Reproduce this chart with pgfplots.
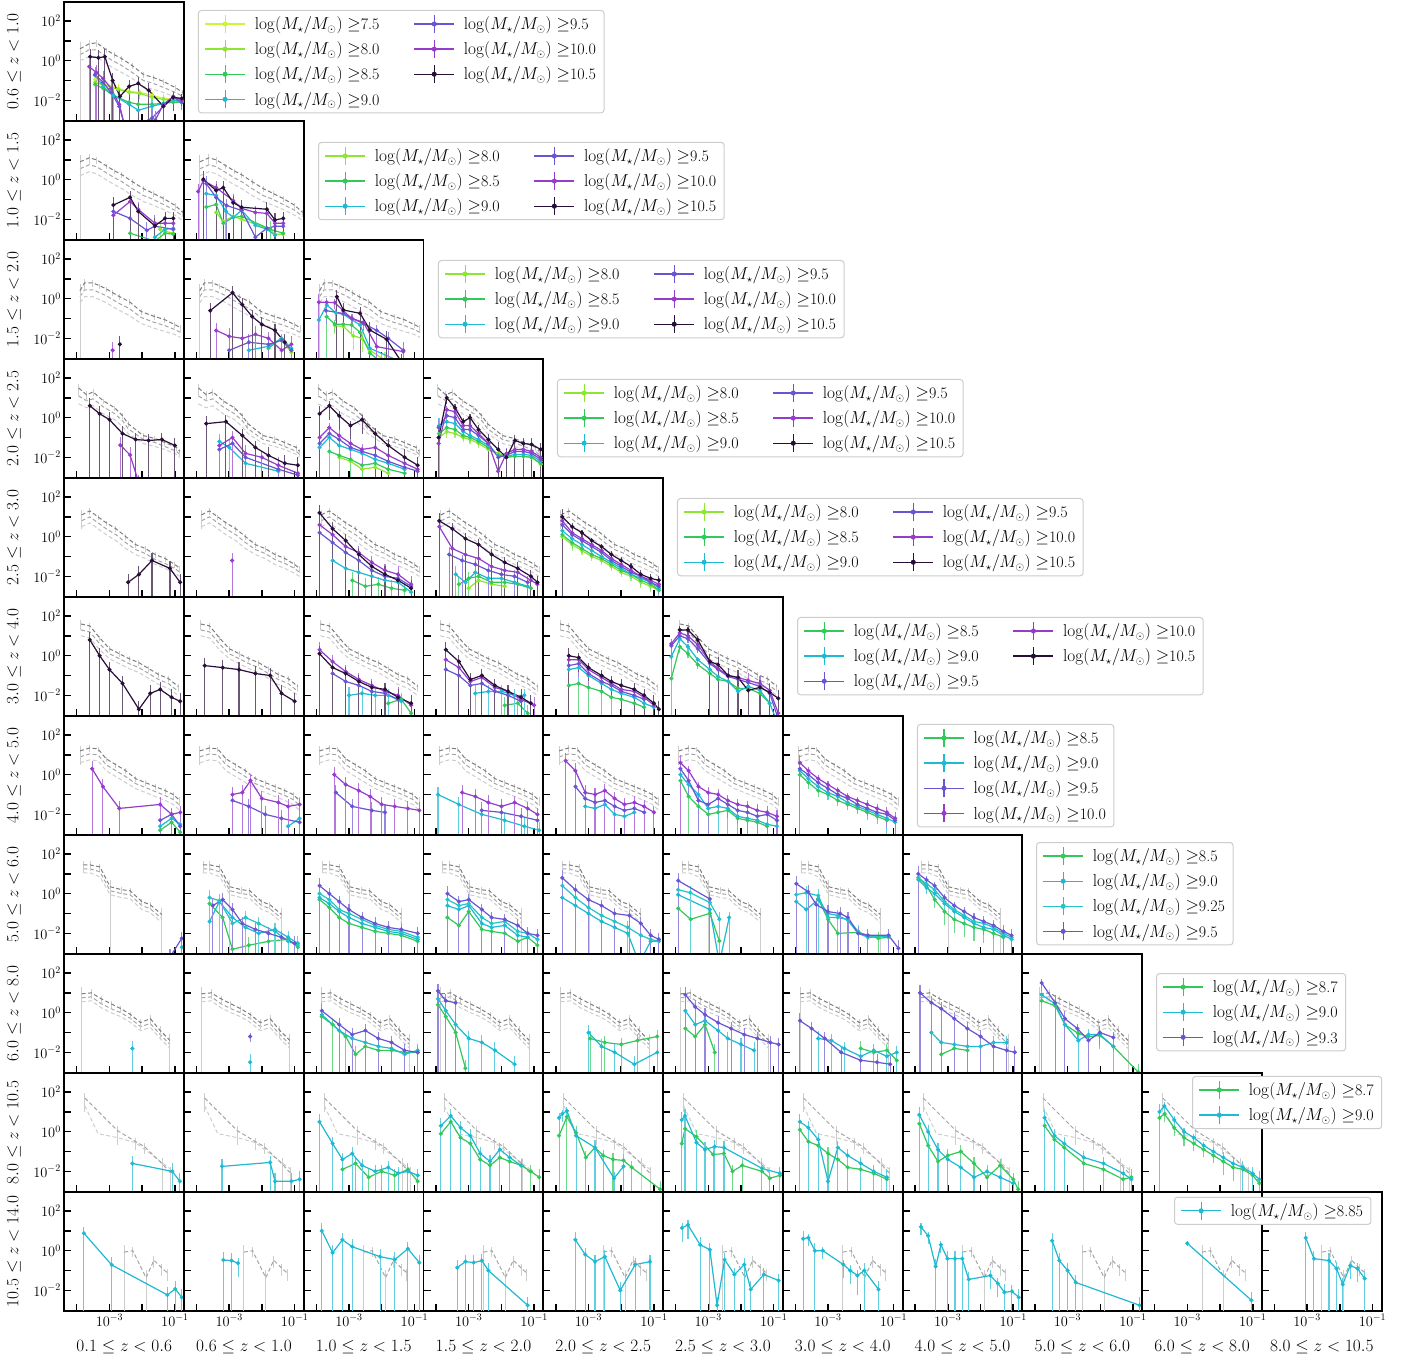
\documentclass[border=0pt]{standalone}
\usepackage{pgfplots}
\pgfplotsset{compat=1.18}
\definecolor{cA}{RGB}{205,245,50}
\definecolor{cB}{RGB}{140,230,50}
\definecolor{cC}{RGB}{50,200,90}
\definecolor{cD}{RGB}{30,185,210}
\definecolor{cE}{RGB}{35,195,200}
\definecolor{cF}{RGB}{105,85,210}
\definecolor{cG}{RGB}{150,60,205}
\definecolor{cH}{RGB}{40,15,55}
\definecolor{gA}{RGB}{125,125,125}
\definecolor{gB}{RGB}{165,165,165}
\definecolor{gC}{RGB}{205,205,205}
\definecolor{lgframe}{RGB}{204,204,204}
\pgfplotsset{
 pnl/.style={scale only axis, width=119.76pt, height=119pt, anchor=north west,
  xmin=-4.38, xmax=-0.72, ymin=-3.04, ymax=2.96,
  xtick={-4,-3,-2,-1}, ytick={-2,-1,0,1,2}, xticklabels={,,,}, yticklabels={,,,,},
  tick align=inside, tick pos=left, major tick length=7pt,
  tick style={black, line width=1.5pt}, axis line style={line width=1.8pt},
  tick label style={font=\fontsize{13.6}{16}\selectfont},
  label style={font=\fontsize{16}{19}\selectfont},
  ylabel style={at={(axis description cs:-0.42,0.5)}, anchor=center},
  xlabel style={at={(axis description cs:0.5,-0.30)}, anchor=center},
  legend cell align=left,
  legend style={draw=lgframe, line width=1pt, rounded corners=3pt, fill=white,
   font=\fontsize{16}{19}\selectfont, row sep=6pt, inner xsep=6pt, inner ysep=4pt,
   /tikz/every even column/.append style={column sep=32pt},
   /tikz/every odd column/.append style={column sep=7pt}}},
 yl/.style={yticklabels={$10^{-2}$,,$10^{0}$,,$10^{2}$}, ylabel={#1}},
 xl/.style={xticklabels={,$10^{-3}$,,$10^{-1}$}, xlabel={#1}},
 lg/.style n args={3}{legend columns=#3, legend style={at={(axis description cs:#1,#2)}, anchor=north west}},
 ser/.style={forget plot, line width=1.2pt, mark=*, mark size=1.4pt, mark options={solid}},
 ebar/.style={forget plot, no marks, solid, -, quiver={u=0, v={ln(1+\thisrowno{2})/ln(10)-ln(max(1-\thisrowno{2},0.00001))/ln(10)}}},
 gsern/.style={forget plot, line width=1pt, dash pattern=on 4pt off 2.5pt, no marks},
}
\newcommand{\sr}[2]{\addplot[#1!70!white,line width=1.1pt,ebar] table[header=false,row sep=\\,x index=0,y expr={\thisrowno{1}+ln(max(1-\thisrowno{2},0.00001))/ln(10)}]{#2};\addplot[#1,ser] table[header=false,row sep=\\,x index=0,y index=1]{#2};}
\newcommand{\gp}[2]{\addplot[gC,line width=1pt,ebar] table[header=false,row sep=\\,x index=0,y expr={\thisrowno{1}+ln(max(1-\thisrowno{2},0.00001))/ln(10)}]{#2};\addplot[#1,gsern] table[header=false,row sep=\\,x index=0,y index=1]{#2};}
\newcommand{\gq}[2]{\addplot[#1,gsern] table[header=false,row sep=\\,x index=0,y index=1]{#2};}
\newcommand{\lge}[2]{\addlegendimage{legend image code/.code={\draw[#1,line width=1.3pt] (0pt,0pt) -- (40pt,0pt);\draw[#1,line width=1.1pt] (20pt,-9pt) -- (20pt,9pt);\fill[#1] (20pt,0pt) circle (2pt);}}\addlegendentry{$\log(M_\star/M_\odot)$ $\geq$#2}}
\newcommand{\defgray}[2]{\expandafter\def\csname grayrow#1\endcsname{#2}}
\newcommand{\Pnl}[4]{\begin{axis}[pnl,at={({64.3pt+#2*119.76pt},{1363pt-#1*119pt})},#3]\csname grayrow#1\endcsname #4\end{axis}}

\defgray{0}{%
\gq{gC}{-3.9 0.0 1.2\\ -3.62 0.2 0.5\\ -3.39 0.2 0.4\\ -3.1 -0.15 0.3\\ -2.85 -0.4 0.3\\ -2.62 -0.6 0.3\\ -2.3 -0.9 0.3\\ -1.96 -1.3 0.3\\ -1.65 -1.45 0.3\\ -1.35 -1.6 0.3\\ -0.99 -1.85 0.3\\ -0.76 -2.0 0.3\\}
\gq{gB}{-3.9 0.3 1.2\\ -3.62 0.55 0.5\\ -3.39 0.55 0.4\\ -3.1 0.2 0.3\\ -2.85 -0.05 0.3\\ -2.62 -0.25 0.3\\ -2.3 -0.6 0.3\\ -1.96 -1.0 0.3\\ -1.65 -1.15 0.3\\ -1.35 -1.35 0.3\\ -0.99 -1.6 0.3\\ -0.76 -1.8 0.3\\}
\gp{gA}{-3.9 0.6 1.2\\ -3.62 0.85 0.5\\ -3.39 0.9 0.4\\ -3.1 0.55 0.3\\ -2.85 0.3 0.3\\ -2.62 0.1 0.3\\ -2.3 -0.25 0.3\\ -1.96 -0.7 0.3\\ -1.65 -0.85 0.3\\ -1.35 -1.05 0.3\\ -0.99 -1.35 0.3\\ -0.76 -1.6 0.3\\}}
\defgray{1}{%
\gq{gC}{-3.9 0.2 1.2\\ -3.62 0.4 0.5\\ -3.39 0.3 0.4\\ -3.1 0.0 0.3\\ -2.85 -0.25 0.3\\ -2.62 -0.45 0.3\\ -2.3 -0.8 0.3\\ -1.96 -1.1 0.3\\ -1.65 -1.3 0.3\\ -1.35 -1.5 0.3\\ -0.99 -1.8 0.3\\ -0.76 -2.05 0.4\\}
\gq{gB}{-3.9 0.55 1.2\\ -3.62 0.75 0.5\\ -3.39 0.65 0.4\\ -3.1 0.35 0.3\\ -2.85 0.1 0.3\\ -2.62 -0.1 0.3\\ -2.3 -0.45 0.3\\ -1.96 -0.8 0.3\\ -1.65 -1.0 0.3\\ -1.35 -1.25 0.3\\ -0.99 -1.55 0.3\\ -0.76 -1.85 0.4\\}
\gp{gA}{-3.9 0.9 1.2\\ -3.62 1.1 0.5\\ -3.39 1.0 0.4\\ -3.1 0.7 0.3\\ -2.85 0.45 0.3\\ -2.62 0.25 0.3\\ -2.3 -0.1 0.3\\ -1.96 -0.45 0.3\\ -1.65 -0.7 0.3\\ -1.35 -0.95 0.3\\ -0.99 -1.3 0.3\\ -0.76 -1.65 0.4\\}}
\defgray{2}{%
\gq{gC}{-3.9 -0.2 1.2\\ -3.76 0.1 0.5\\ -3.51 0.1 0.4\\ -3.3 -0.05 0.3\\ -3.1 -0.2 0.3\\ -2.9 -0.4 0.3\\ -2.69 -0.6 0.3\\ -2.39 -0.85 0.3\\ -2.03 -1.25 0.3\\ -1.62 -1.5 0.3\\ -1.32 -1.65 0.3\\ -1.01 -1.8 0.3\\ -0.83 -1.95 0.4\\}
\gq{gB}{-3.9 0.1 1.2\\ -3.76 0.45 0.5\\ -3.51 0.45 0.4\\ -3.3 0.3 0.3\\ -3.1 0.15 0.3\\ -2.9 -0.05 0.3\\ -2.69 -0.25 0.3\\ -2.39 -0.5 0.3\\ -2.03 -0.95 0.3\\ -1.62 -1.2 0.3\\ -1.32 -1.35 0.3\\ -1.01 -1.55 0.3\\ -0.83 -1.7 0.4\\}
\gp{gA}{-3.9 0.4 1.2\\ -3.76 0.8 0.5\\ -3.51 0.8 0.4\\ -3.3 0.65 0.3\\ -3.1 0.5 0.3\\ -2.9 0.3 0.3\\ -2.69 0.1 0.3\\ -2.39 -0.15 0.3\\ -2.03 -0.65 0.3\\ -1.62 -0.9 0.3\\ -1.32 -1.05 0.3\\ -1.01 -1.3 0.3\\ -0.83 -1.45 0.4\\}}
\defgray{3}{%
\gq{gC}{-3.94 0.7 0.6\\ -3.7 0.5 0.5\\ -3.5 0.6 0.4\\ -3.19 0.2 0.3\\ -2.84 -0.1 0.3\\ -2.6 -0.45 0.3\\ -2.43 -0.8 0.3\\ -1.97 -1.3 0.3\\ -1.61 -1.45 0.3\\ -1.31 -1.6 0.3\\ -0.95 -1.85 0.3\\ -0.85 -2.0 0.4\\}
\gq{gB}{-3.94 1.1 0.6\\ -3.7 0.85 0.5\\ -3.5 0.95 0.4\\ -3.19 0.55 0.3\\ -2.84 0.2 0.3\\ -2.6 -0.15 0.3\\ -2.43 -0.55 0.3\\ -1.97 -1.1 0.3\\ -1.61 -1.25 0.3\\ -1.31 -1.45 0.3\\ -0.95 -1.7 0.3\\ -0.85 -1.85 0.4\\}
\gp{gA}{-3.94 1.5 0.6\\ -3.7 1.15 0.5\\ -3.5 1.3 0.4\\ -3.19 0.85 0.3\\ -2.84 0.5 0.3\\ -2.6 0.1 0.3\\ -2.43 -0.3 0.3\\ -1.97 -0.9 0.3\\ -1.61 -1.05 0.3\\ -1.31 -1.25 0.3\\ -0.95 -1.5 0.3\\ -0.85 -1.7 0.4\\}}
\defgray{4}{%
\gq{gC}{-3.85 0.5 0.8\\ -3.6 0.7 0.4\\ -3.35 0.4 0.3\\ -3.1 0.1 0.3\\ -2.8 -0.2 0.3\\ -2.5 -0.6 0.3\\ -2.2 -0.9 0.3\\ -1.9 -1.1 0.3\\ -1.6 -1.4 0.3\\ -1.3 -1.6 0.3\\ -1.0 -1.85 0.3\\ -0.85 -2.0 0.4\\}
\gq{gB}{-3.85 0.8 0.8\\ -3.6 1.0 0.4\\ -3.35 0.7 0.3\\ -3.1 0.4 0.3\\ -2.8 0.1 0.3\\ -2.5 -0.3 0.3\\ -2.2 -0.65 0.3\\ -1.9 -0.85 0.3\\ -1.6 -1.15 0.3\\ -1.3 -1.35 0.3\\ -1.0 -1.6 0.3\\ -0.85 -1.8 0.4\\}
\gp{gA}{-3.85 1.1 0.8\\ -3.6 1.3 0.4\\ -3.35 1.0 0.3\\ -3.1 0.7 0.3\\ -2.8 0.4 0.3\\ -2.5 0.0 0.3\\ -2.2 -0.4 0.3\\ -1.9 -0.6 0.3\\ -1.6 -0.9 0.3\\ -1.3 -1.1 0.3\\ -1.0 -1.4 0.3\\ -0.85 -1.6 0.4\\}}
\defgray{5}{%
\gq{gC}{-3.87 1.0 0.5\\ -3.6 0.9 0.4\\ -3.3 0.3 0.3\\ -3.0 -0.15 0.3\\ -2.7 -0.4 0.3\\ -2.4 -0.65 0.3\\ -2.1 -0.85 0.3\\ -1.8 -1.15 0.3\\ -1.5 -1.45 0.3\\ -1.2 -1.65 0.3\\ -0.9 -2.0 0.4\\}
\gq{gB}{-3.87 1.3 0.5\\ -3.6 1.2 0.4\\ -3.3 0.6 0.3\\ -3.0 0.1 0.3\\ -2.7 -0.15 0.3\\ -2.4 -0.4 0.3\\ -2.1 -0.6 0.3\\ -1.8 -0.9 0.3\\ -1.5 -1.2 0.3\\ -1.2 -1.4 0.3\\ -0.9 -1.8 0.4\\}
\gp{gA}{-3.87 1.6 0.5\\ -3.6 1.5 0.4\\ -3.3 0.9 0.3\\ -3.0 0.35 0.3\\ -2.7 0.1 0.3\\ -2.4 -0.15 0.3\\ -2.1 -0.35 0.3\\ -1.8 -0.65 0.3\\ -1.5 -0.95 0.3\\ -1.2 -1.15 0.3\\ -0.9 -1.55 0.4\\}}
\defgray{6}{%
\gq{gC}{-3.9 0.6 0.8\\ -3.6 0.75 0.4\\ -3.35 0.7 0.3\\ -3.1 0.2 0.3\\ -2.8 -0.1 0.3\\ -2.5 -0.4 0.3\\ -2.2 -0.7 0.3\\ -1.9 -0.9 0.3\\ -1.6 -1.1 0.3\\ -1.3 -1.3 0.3\\ -1.05 -1.5 0.4\\ -0.85 -1.8 0.5\\}
\gq{gB}{-3.9 0.9 0.8\\ -3.6 1.05 0.4\\ -3.35 1.0 0.3\\ -3.1 0.5 0.3\\ -2.8 0.2 0.3\\ -2.5 -0.1 0.3\\ -2.2 -0.45 0.3\\ -1.9 -0.65 0.3\\ -1.6 -0.85 0.3\\ -1.3 -1.05 0.3\\ -1.05 -1.25 0.4\\ -0.85 -1.55 0.5\\}
\gp{gA}{-3.9 1.2 0.8\\ -3.6 1.35 0.4\\ -3.35 1.3 0.3\\ -3.1 0.8 0.3\\ -2.8 0.5 0.3\\ -2.5 0.2 0.3\\ -2.2 -0.2 0.3\\ -1.9 -0.4 0.3\\ -1.6 -0.6 0.3\\ -1.3 -0.8 0.3\\ -1.05 -1.0 0.4\\ -0.85 -1.3 0.5\\}}
\defgray{7}{%
\gq{gC}{-3.8 1.05 0.6\\ -3.59 1.05 0.5\\ -3.29 0.85 0.4\\ -2.98 -0.05 1.2\\ -2.62 -0.2 0.4\\ -2.37 -0.25 0.4\\ -2.01 -0.8 0.4\\ -1.76 -0.95 0.4\\ -1.4 -1.45 1.2\\}
\gq{gB}{-3.8 1.25 0.6\\ -3.59 1.25 0.5\\ -3.29 1.1 0.4\\ -2.98 0.15 1.2\\ -2.62 0.0 0.4\\ -2.37 -0.05 0.4\\ -2.01 -0.6 0.4\\ -1.76 -0.75 0.4\\ -1.4 -1.25 1.2\\}
\gp{gA}{-3.8 1.45 0.6\\ -3.59 1.45 0.5\\ -3.29 1.35 0.4\\ -2.98 0.35 1.2\\ -2.62 0.2 0.4\\ -2.37 0.15 0.4\\ -2.01 -0.4 0.4\\ -1.76 -0.55 0.4\\ -1.4 -1.05 1.2\\}}
\defgray{8}{%
\gq{gC}{-3.85 0.55 1.2\\ -3.55 0.6 0.5\\ -3.25 0.25 0.4\\ -2.95 0.0 0.4\\ -2.65 -0.2 0.4\\ -2.35 -0.5 0.4\\ -2.05 -0.9 0.5\\ -1.75 -0.75 0.5\\ -1.45 -1.3 0.6\\ -1.15 -1.8 1.2\\}
\gq{gB}{-3.85 0.75 1.2\\ -3.55 0.8 0.5\\ -3.25 0.45 0.4\\ -2.95 0.2 0.4\\ -2.65 0.0 0.4\\ -2.35 -0.3 0.4\\ -2.05 -0.7 0.5\\ -1.75 -0.55 0.5\\ -1.45 -1.1 0.6\\ -1.15 -1.6 1.2\\}
\gp{gA}{-3.85 0.95 1.2\\ -3.55 1.0 0.5\\ -3.25 0.7 0.4\\ -2.95 0.45 0.4\\ -2.65 0.2 0.4\\ -2.35 -0.1 0.4\\ -2.05 -0.5 0.5\\ -1.75 -0.3 0.5\\ -1.45 -0.9 0.6\\ -1.15 -1.4 1.2\\}}
\defgray{9}{%
\gq{gC}{-3.75 1.3 0.8\\ -3.35 -0.1 0.8\\ -2.75 -0.3 0.6\\ -2.2 -0.55 0.6\\ -1.6 -1.3 0.8\\ -1.12 -1.9 1.2\\}
\gp{gB}{-3.75 1.7 0.8\\ -2.75 0.05 0.8\\ -2.2 -0.5 0.6\\ -1.93 -0.75 0.6\\ -1.37 -1.65 1.2\\ -1.12 -2.1 1.2\\}}
\defgray{10}{%
\gp{gB}{-2.55 -0.07 1.2\\ -2.29 0.0 0.5\\ -1.88 -1.36 1.5\\ -1.64 -0.48 0.6\\ -1.40 -0.87 0.6\\ -1.23 -1.12 0.6\\}}

\begin{document}
\begin{tikzpicture}
\useasboundingbox (0,0) rectangle (1416pt,1365pt);
% ---------------- row 0
\Pnl{0}{0}{yl={$0.6\leq z<1.0$}, lg={1.116}{0.933}{2}}{
\sr{cA}{-3.44 -0.95 1.2\\ -2.73 -1.4 0.6\\ -2.4 -1.55 0.5\\ -2.07 -1.6 0.5\\ -1.7 -1.75 0.5\\ -1.35 -1.9 0.6\\ -1.05 -1.95 0.4\\ -0.79 -2.0 0.4\\}
\sr{cB}{-3.44 -1.1 1.2\\ -2.73 -1.45 0.6\\ -2.4 -1.6 0.5\\ -2.07 -1.65 0.5\\ -1.7 -1.85 0.5\\ -1.35 -1.95 0.6\\ -1.05 -2.0 0.4\\ -0.79 -2.1 0.4\\}
\sr{cC}{-3.44 -1.2 1.5\\ -3.19 -1.4 1.5\\ -2.88 -1.75 1.2\\ -2.4 -2.1 1.0\\ -2.12 -2.2 1.2\\ -1.7 -2.2 0.8\\ -1.35 -2.15 0.8\\ -1.05 -2.1 0.5\\ -0.79 -2.1 0.4\\}
\sr{cD}{-3.44 -0.75 1.5\\ -3.19 -1.3 1.5\\ -2.88 -1.75 1.2\\ -2.4 -2.2 1.5\\ -2.12 -2.5 1.5\\ -1.7 -2.3 1.2\\ -1.35 -2.15 1.0\\ -1.05 -2.0 0.6\\ -0.79 -2.05 0.5\\}
\sr{cF}{-3.44 -0.7 1.5\\ -3.19 -1.1 1.5\\ -2.95 -1.6 1.5\\ -2.7 -2.3 1.5\\ -2.5 -3.5 2\\ -1.7 -2.9 2\\ -1.35 -2.3 1.5\\ -1.05 -1.85 0.8\\ -0.79 -2.1 0.6\\}
\sr{cG}{-3.62 -0.3 1.5\\ -3.4 -0.6 1.5\\ -3.19 -0.9 1.5\\ -2.95 -1.4 1.5\\ -2.7 -2.2 1.5\\ -2.5 -3.5 2\\ -1.6 -3.0 2\\ -1.35 -2.2 1.5\\ -1.05 -1.8 0.8\\ -0.79 -2.0 0.6\\}
\sr{cH}{-3.59 0.2 1.5\\ -3.34 0.15 1.5\\ -3.14 0.2 1.5\\ -2.9 -1.0 1.5\\ -2.68 -1.8 1.5\\ -2.4 -1.3 1.2\\ -2.12 -1.15 1.2\\ -1.8 -1.5 1.5\\ -1.35 -2.3 1.5\\ -1.05 -1.85 0.8\\ -0.79 -1.9 0.6\\}
\lge{cA}{7.5}\lge{cF}{9.5}\lge{cB}{8.0}\lge{cG}{10.0}\lge{cC}{8.5}\lge{cH}{10.5}\lge{cD}{9.0}}
% ---------------- row 1
\Pnl{1}{0}{yl={$1.0\leq z<1.5$}}{
\sr{cB}{-1.45 -2.5 1.5\\ -1.3 -2.6 1.2\\ -1.05 -2.7 1.2\\}
\sr{cC}{-2.37 -2.7 1.5\\ -1.61 -3.1 1.5\\ -1.3 -2.7 1.5\\ -1.05 -2.75 1.2\\}
\sr{cD}{-1.61 -2.9 1.5\\ -1.3 -2.5 1.5\\ -1.05 -2.45 1.2\\}
\sr{cF}{-2.88 -1.6 1.5\\ -2.37 -1.95 1.5\\ -1.86 -2.55 1.5\\ -1.61 -2.35 1.5\\ -1.05 -2.5 1.2\\}
\sr{cG}{-2.88 -1.79 1.5\\ -2.37 -1.1 1.5\\ -2.12 -1.5 1.5\\ -1.61 -2.2 1.5\\ -1.3 -2.2 1.2\\ -1.05 -2.2 1.2\\}
\sr{cH}{-2.88 -1.28 1.5\\ -2.37 -0.89 1.2\\ -2.12 -1.6 1.5\\ -1.61 -2.33 1.5\\ -1.3 -1.95 1.2\\ -1.05 -1.95 1.2\\}}
\Pnl{1}{1}{lg={1.119}{0.824}{2}}{
\sr{cB}{-3.4 -1.65 1.5\\ -3.18 -2.1 1.5\\ -2.88 -1.85 1.2\\ -2.62 -2.0 1.2\\ -1.75 -2.5 1.5\\ -1.6 -2.75 1.5\\ -1.35 -2.75 1.2\\}
\sr{cC}{-3.7 -1.38 1.5\\ -3.4 -1.25 1.2\\ -3.18 -2.2 1.5\\ -2.88 -1.9 1.2\\ -2.62 -1.85 1.2\\ -1.75 -2.5 1.5\\ -1.35 -2.7 1.2\\}
\sr{cD}{-3.7 -0.7 1.5\\ -3.4 -0.8 1.2\\ -3.1 -1.6 1.2\\ -2.88 -1.9 1.2\\ -2.62 -1.55 1.2\\ -2.2 -2.3 1.5\\ -1.85 -2.5 1.5\\ -1.6 -2.8 1.5\\}
\sr{cF}{-3.7 -0.2 1.5\\ -3.4 -0.9 1.2\\ -3.08 -1.3 1.2\\ -2.62 -1.55 1.2\\ -2.2 -2.9 1.5\\ -1.85 -2.45 1.5\\ -1.6 -2.35 1.2\\ -1.35 -2.35 1.2\\}
\sr{cG}{-3.95 -0.6 1.5\\ -3.79 -0.05 1.2\\ -3.4 -0.4 1.2\\ -2.88 -1.05 1.2\\ -2.62 -1.45 1.2\\ -2.2 -1.65 1.2\\ -1.85 -1.7 1.2\\ -1.6 -2.2 1.2\\ -1.35 -2.2 1.2\\}
\sr{cH}{-3.79 0.02 1.5\\ -3.4 -0.55 1.2\\ -3.18 -0.4 1.2\\ -2.88 -1.16 1.2\\ -2.62 -1.39 1.2\\ -1.85 -1.49 1.2\\ -1.6 -2.03 1.2\\ -1.35 -1.95 1.2\\}
\lge{cB}{8.0}\lge{cF}{9.5}\lge{cC}{8.5}\lge{cG}{10.0}\lge{cD}{9.0}\lge{cH}{10.5}}
% ---------------- row 2
\Pnl{2}{0}{yl={$1.5\leq z<2.0$}}{
\sr{cG}{-2.9 -2.6 1.5\\}
\sr{cH}{-2.68 -2.3 1.5\\}}
\Pnl{2}{1}{}{
\sr{cB}{-1.4 -2.1 0.6\\ -1.1 -2.7 1.5\\}
\sr{cC}{-1.8 -2.5 1.5\\ -1.4 -2.0 0.6\\ -1.1 -2.6 1.5\\}
\sr{cD}{-2.4 -2.6 1.5\\ -1.8 -2.4 1.5\\ -1.4 -2.0 0.6\\ -1.1 -2.5 1.5\\}
\sr{cF}{-3.0 -2.6 1.5\\ -2.4 -2.2 1.5\\ -1.8 -2.3 1.5\\ -1.4 -2.1 0.8\\ -1.1 -2.6 1.5\\}
\sr{cG}{-3.4 -1.6 1.5\\ -3.0 -1.9 1.5\\ -2.6 -2.0 1.5\\ -2.2 -1.8 1.5\\ -1.8 -2.0 1.2\\ -1.4 -2.6 1.5\\ -1.1 -2.3 1.5\\}
\sr{cH}{-3.58 -0.6 1.5\\ -2.9 0.3 1.2\\ -2.6 -0.3 1.2\\ -2.3 -0.9 1.2\\ -2.0 -1.3 1.5\\ -1.6 -1.6 1.2\\ -1.3 -2.2 1.5\\}}
\Pnl{2}{2}{lg={1.12}{0.832}{2}}{
\sr{cB}{-3.43 -1.36 0.6\\ -3.17 -1.4 0.6\\ -2.87 -1.87 0.8\\ -2.6 -2.0 0.8\\ -2.36 -2.6 1.5\\ -1.9 -3.1 1.5\\}
\sr{cC}{-3.68 -0.91 1.5\\ -3.43 -1.29 0.6\\ -3.17 -1.29 0.6\\ -2.92 -1.33 0.6\\ -2.66 -1.7 0.8\\ -2.36 -2.75 1.5\\ -2.0 -3.2 1.5\\}
\sr{cD}{-3.92 -1.07 1.5\\ -3.68 -0.32 0.6\\ -3.4 -0.71 0.6\\ -3.17 -0.79 0.6\\ -2.66 -1.33 0.6\\ -2.36 -2.5 1.5\\ -1.39 -3.2 1.5\\}
\sr{cF}{-3.7 -0.6 0.8\\ -3.17 -0.75 0.6\\ -2.9 -1.0 0.6\\ -2.56 -1.25 0.6\\ -2.15 -1.6 0.8\\ -1.8 -2.0 1.0\\ -1.34 -2.6 1.5\\}
\sr{cG}{-3.92 -0.18 1.5\\ -3.68 -0.18 0.6\\ -3.43 -0.2 0.5\\ -3.17 -0.62 0.5\\ -2.92 -0.99 0.6\\ -2.56 -1.19 0.6\\ -2.15 -2.42 1.5\\ -1.34 -2.67 1.5\\}
\sr{cH}{-3.37 0.1 1.2\\ -3.17 -0.57 1.2\\ -2.66 -0.74 1.2\\ -2.36 -1.58 1.5\\ -1.85 -2.05 1.5\\ -1.39 -3.2 1.5\\}
\lge{cB}{8.0}\lge{cF}{9.5}\lge{cC}{8.5}\lge{cG}{10.0}\lge{cD}{9.0}\lge{cH}{10.5}}
% ---------------- row 3
\Pnl{3}{0}{yl={$2.0\leq z<2.5$}}{
\sr{cG}{-2.67 -1.38 1.5\\ -2.37 -1.88 1.5\\ -2.1 -3.3 1.5\\}
\sr{cH}{-3.6 0.6 1.5\\ -3.3 0.2 1.5\\ -3.0 -0.1 1.5\\ -2.6 -0.8 1.5\\ -2.2 -1.1 1.2\\ -1.8 -1.15 1.2\\ -1.4 -1.1 1.2\\ -1.0 -1.4 1.5\\}}
\Pnl{3}{1}{}{
\sr{cD}{-3.3 -1.2 1.5\\ -3.0 -1.5 1.5\\ -2.5 -2.3 1.5\\ -1.5 -2.7 1.5\\}
\sr{cF}{-3.3 -1.6 1.5\\ -2.9 -1.3 1.5\\ -2.5 -2.0 1.5\\ -1.5 -2.6 1.5\\ -0.9 -2.9 1.5\\}
\sr{cG}{-3.3 -1.4 1.5\\ -2.9 -1.0 1.2\\ -2.5 -1.8 1.5\\ -2.0 -2.0 1.2\\ -1.5 -2.4 1.5\\ -0.9 -2.8 1.5\\}
\sr{cH}{-3.7 -0.3 1.5\\ -3.1 -0.2 1.2\\ -2.6 -0.9 1.2\\ -2.2 -1.5 1.2\\ -1.8 -1.9 1.5\\ -1.3 -2.3 1.5\\ -0.9 -2.4 1.5\\}}
\Pnl{3}{2}{}{
\sr{cB}{-3.3 -2.0 1.5\\ -2.95 -2.2 1.2\\ -2.6 -2.6 1.5\\ -2.2 -2.5 1.2\\ -1.8 -2.8 1.5\\}
\sr{cC}{-3.6 -1.7 1.5\\ -3.3 -1.9 1.2\\ -2.95 -2.1 1.2\\ -2.6 -2.4 1.2\\ -2.2 -2.3 1.2\\ -1.8 -2.6 1.5\\ -1.3 -2.8 1.5\\}
\sr{cD}{-3.9 -1.5 1.5\\ -3.6 -1.0 0.8\\ -3.3 -1.4 0.8\\ -2.95 -1.6 0.8\\ -2.6 -1.8 0.8\\ -2.2 -2.1 1.0\\ -1.8 -2.3 1.2\\ -1.3 -2.6 1.5\\}
\sr{cF}{-3.9 -1.3 1.5\\ -3.6 -0.8 0.8\\ -3.3 -1.1 0.8\\ -2.95 -1.5 0.8\\ -2.6 -1.7 0.8\\ -2.2 -1.9 1.0\\ -1.8 -2.2 1.2\\ -1.3 -2.5 1.5\\ -0.9 -2.7 1.5\\}
\sr{cG}{-3.9 -1.0 1.5\\ -3.6 -0.5 0.8\\ -3.3 -0.9 0.8\\ -2.95 -1.3 0.8\\ -2.6 -1.6 0.8\\ -2.2 -1.5 1.0\\ -1.8 -1.9 1.2\\ -1.3 -2.3 1.5\\ -0.9 -2.6 1.5\\}
\sr{cH}{-3.9 0.2 1.5\\ -3.6 0.6 0.8\\ -3.3 0.1 0.8\\ -2.95 -0.4 0.8\\ -2.6 -0.1 0.8\\ -2.2 -0.8 1.0\\ -1.8 -1.4 1.2\\ -1.3 -2.0 1.5\\ -0.9 -2.4 1.5\\}}
\Pnl{3}{3}{lg={1.114}{0.832}{2}}{
\sr{cB}{-3.91 -1.0 1.5\\ -3.67 -0.7 0.5\\ -3.42 -0.8 0.4\\ -3.17 -1.0 0.4\\ -2.96 -1.1 0.4\\ -2.7 -1.3 0.4\\ -2.4 -1.6 0.4\\ -2.1 -1.8 0.6\\ -1.85 -1.95 0.5\\ -1.59 -1.95 0.4\\ -1.33 -1.95 0.4\\ -1.08 -2.0 0.4\\ -0.8 -2.35 0.5\\}
\sr{cC}{-3.91 -0.8 1.5\\ -3.67 -0.5 0.5\\ -3.42 -0.6 0.4\\ -3.17 -0.9 0.4\\ -2.96 -1.0 0.4\\ -2.7 -1.2 0.4\\ -2.4 -1.5 0.4\\ -2.1 -1.9 0.6\\ -1.85 -2.0 0.5\\ -1.59 -1.95 0.4\\ -1.33 -1.95 0.4\\ -1.08 -2.0 0.4\\ -0.8 -2.3 0.5\\}
\sr{cD}{-3.91 -0.4 1.5\\ -3.67 -0.2 0.5\\ -3.42 -0.3 0.4\\ -3.17 -0.7 0.4\\ -2.96 -0.9 0.4\\ -2.7 -1.1 0.4\\ -2.4 -1.4 0.4\\ -2.1 -1.9 0.6\\ -1.85 -1.95 0.5\\ -1.59 -1.85 0.4\\ -1.33 -1.85 0.4\\ -1.08 -1.9 0.4\\ -0.8 -2.2 0.5\\}
\sr{cF}{-3.92 -0.5 1.5\\ -3.67 0.1 0.5\\ -3.42 0.0 0.4\\ -3.17 -0.6 0.4\\ -2.96 -0.6 0.4\\ -2.7 -0.9 0.4\\ -2.4 -1.3 0.5\\ -2.1 -2.0 1.2\\ -1.85 -1.9 0.6\\ -1.59 -1.7 0.5\\ -1.33 -1.7 0.5\\ -1.08 -1.8 0.5\\ -0.8 -2.1 0.5\\}
\sr{cG}{-3.92 -1.3 1.5\\ -3.67 0.4 0.5\\ -3.42 0.3 0.4\\ -3.17 -0.4 0.5\\ -2.96 -0.4 0.5\\ -2.7 -0.8 0.5\\ -2.4 -1.3 0.6\\ -2.1 -2.7 1.5\\ -1.85 -1.8 0.8\\ -1.59 -1.6 0.6\\ -1.33 -1.6 0.6\\ -1.08 -1.7 0.6\\ -0.8 -2.0 0.6\\}
\sr{cH}{-3.92 -1.0 1.5\\ -3.67 1.0 0.5\\ -3.42 0.5 0.5\\ -3.17 -0.2 0.6\\ -2.96 0.0 0.6\\ -2.7 -0.6 0.8\\ -2.4 -1.1 1.0\\ -2.1 -1.6 1.5\\ -1.85 -2.0 1.5\\ -1.59 -1.15 1.0\\ -1.33 -1.3 1.0\\ -1.08 -1.35 1.0\\ -0.8 -1.6 1.2\\}
\lge{cB}{8.0}\lge{cF}{9.5}\lge{cC}{8.5}\lge{cG}{10.0}\lge{cD}{9.0}\lge{cH}{10.5}}
% ---------------- row 4
\Pnl{4}{0}{yl={$2.5\leq z<3.0$}}{
\sr{cH}{-2.43 -2.3 1.5\\ -2.1 -1.9 1.5\\ -1.7 -1.2 1.5\\ -1.15 -1.6 1.5\\ -0.84 -2.3 1.5\\}}
\Pnl{4}{1}{}{
\sr{cG}{-2.91 -1.2 1.5\\}}
\Pnl{4}{2}{}{
\sr{cC}{-2.9 -2.2 1.5\\ -2.5 -2.5 1.5\\ -2.1 -2.4 1.2\\ -1.7 -2.6 1.5\\ -1.3 -2.7 1.5\\}
\sr{cD}{-3.5 -1.2 1.5\\ -3.1 -1.6 1.5\\ -2.7 -1.8 1.2\\ -2.3 -2.0 1.2\\ -1.9 -2.2 1.2\\ -1.5 -2.3 1.5\\ -1.1 -2.8 1.5\\}
\sr{cF}{-3.9 0.2 1.5\\ -3.5 -0.3 1.2\\ -3.1 -0.8 1.2\\ -2.7 -1.2 1.2\\ -2.3 -1.7 1.2\\ -1.9 -2.0 1.2\\ -1.5 -2.1 1.5\\ -1.1 -2.5 1.5\\}
\sr{cG}{-3.9 0.6 1.5\\ -3.5 0.1 1.2\\ -3.1 -0.5 1.2\\ -2.7 -0.8 1.2\\ -2.3 -1.3 1.2\\ -1.9 -1.7 1.2\\ -1.5 -1.9 1.5\\ -1.1 -2.4 1.5\\}
\sr{cH}{-3.9 1.2 1.5\\ -3.5 0.4 1.2\\ -3.1 -0.2 1.2\\ -2.7 -0.9 1.2\\ -2.3 -1.5 1.2\\ -1.9 -1.9 1.5\\ -1.5 -2.2 1.5\\ -1.1 -2.6 1.5\\}}
\Pnl{4}{3}{}{
\sr{cB}{-3.0 -2.6 1.5\\ -2.7 -2.2 1.2\\ -2.3 -2.4 1.2\\ -1.9 -2.5 1.2\\}
\sr{cC}{-3.3 -2.4 1.5\\ -3.0 -2.1 1.2\\ -2.7 -2.0 1.0\\ -2.3 -2.3 1.0\\ -1.9 -2.3 1.0\\ -1.5 -2.4 1.0\\ -1.1 -2.6 1.2\\}
\sr{cD}{-3.4 -1.9 1.5\\ -3.1 -2.3 1.2\\ -2.8 -1.8 1.0\\ -2.4 -2.1 1.0\\ -2.0 -2.1 1.0\\ -1.6 -2.3 1.0\\ -1.2 -2.5 1.2\\}
\sr{cF}{-3.6 -0.9 1.5\\ -3.2 -1.2 1.0\\ -2.8 -1.4 1.0\\ -2.4 -1.7 1.0\\ -2.0 -1.9 1.0\\ -1.6 -2.0 1.0\\ -1.2 -2.3 1.2\\}
\sr{cG}{-3.9 0.5 1.5\\ -3.5 -0.6 1.0\\ -3.1 -0.9 1.0\\ -2.7 -1.1 1.0\\ -2.3 -1.5 1.0\\ -1.9 -1.7 1.0\\ -1.5 -1.8 1.0\\ -1.1 -2.2 1.2\\ -0.9 -2.4 1.2\\}
\sr{cH}{-3.9 0.8 1.5\\ -3.5 0.4 1.0\\ -3.1 -0.1 1.0\\ -2.7 -0.4 1.0\\ -2.3 -0.9 1.0\\ -1.9 -1.3 1.0\\ -1.5 -1.6 1.0\\ -1.1 -2.0 1.2\\ -0.9 -2.3 1.2\\}}
\Pnl{4}{4}{lg={1.116}{0.832}{2}}{
\sr{cB}{-3.8 0.0 1.5\\ -3.5 -0.4 0.5\\ -3.2 -0.7 0.4\\ -2.9 -1.0 0.4\\ -2.6 -1.2 0.4\\ -2.3 -1.5 0.4\\ -2.0 -1.8 0.4\\ -1.7 -2.0 0.4\\ -1.4 -2.3 0.5\\ -1.1 -2.5 0.5\\ -0.85 -2.7 0.6\\}
\sr{cC}{-3.8 0.1 1.5\\ -3.5 -0.3 0.5\\ -3.2 -0.6 0.4\\ -2.9 -0.9 0.4\\ -2.6 -1.1 0.4\\ -2.3 -1.4 0.4\\ -2.0 -1.7 0.4\\ -1.7 -1.9 0.4\\ -1.4 -2.2 0.5\\ -1.1 -2.4 0.5\\ -0.85 -2.7 0.6\\}
\sr{cD}{-3.8 0.3 1.5\\ -3.5 -0.1 0.5\\ -3.2 -0.4 0.4\\ -2.9 -0.7 0.4\\ -2.6 -1.0 0.4\\ -2.3 -1.3 0.4\\ -2.0 -1.6 0.4\\ -1.7 -1.9 0.4\\ -1.4 -2.1 0.5\\ -1.1 -2.3 0.5\\ -0.85 -2.6 0.6\\}
\sr{cF}{-3.8 0.6 1.5\\ -3.5 0.1 0.5\\ -3.2 -0.2 0.4\\ -2.9 -0.5 0.4\\ -2.6 -0.8 0.4\\ -2.3 -1.2 0.4\\ -2.0 -1.5 0.4\\ -1.7 -1.8 0.4\\ -1.4 -2.0 0.5\\ -1.1 -2.3 0.5\\ -0.85 -2.5 0.6\\}
\sr{cG}{-3.8 0.8 1.5\\ -3.5 0.2 0.5\\ -3.2 -0.1 0.4\\ -2.9 -0.4 0.4\\ -2.6 -0.7 0.4\\ -2.3 -1.1 0.4\\ -2.0 -1.4 0.4\\ -1.7 -1.7 0.4\\ -1.4 -2.0 0.5\\ -1.1 -2.2 0.5\\ -0.85 -2.4 0.6\\}
\sr{cH}{-3.8 1.0 1.5\\ -3.5 0.5 0.5\\ -3.2 0.2 0.4\\ -2.9 -0.2 0.4\\ -2.6 -0.5 0.4\\ -2.3 -0.9 0.5\\ -2.0 -1.2 0.5\\ -1.7 -1.5 0.5\\ -1.4 -1.9 0.6\\ -1.1 -2.1 0.6\\ -0.85 -2.2 0.6\\}
\lge{cB}{8.0}\lge{cF}{9.5}\lge{cC}{8.5}\lge{cG}{10.0}\lge{cD}{9.0}\lge{cH}{10.5}}
% ---------------- row 5
\Pnl{5}{0}{yl={$3.0\leq z<4.0$}}{
\sr{cH}{-3.6 0.8 1.5\\ -3.3 0.0 1.5\\ -3.0 -0.7 1.5\\ -2.6 -1.4 1.5\\ -2.1 -2.7 1.5\\ -1.75 -1.9 1.5\\ -1.45 -1.7 1.5\\ -1.1 -2.1 1.5\\ -0.84 -2.3 1.5\\}}
\Pnl{5}{1}{}{
\sr{cH}{-3.75 -0.5 1.5\\ -3.2 -0.6 1.5\\ -2.7 -0.7 1.5\\ -2.2 -0.9 1.5\\ -1.75 -1.0 1.5\\ -1.4 -1.9 1.5\\ -1.0 -2.3 1.5\\}}
\Pnl{5}{2}{}{
\sr{cC}{-1.8 -2.4 1.5\\ -1.4 -2.2 1.2\\ -1.1 -2.9 1.5\\}
\sr{cD}{-3.0 -2.0 1.5\\ -2.6 -1.9 1.2\\ -2.2 -2.0 1.2\\ -1.8 -2.0 1.2\\ -1.4 -2.3 1.5\\}
\sr{cF}{-3.5 -0.9 1.5\\ -3.1 -1.3 1.2\\ -2.7 -1.5 1.2\\ -2.3 -1.8 1.2\\ -1.9 -1.9 1.2\\ -1.5 -2.2 1.5\\}
\sr{cG}{-3.9 0.3 1.5\\ -3.5 -0.3 1.2\\ -3.1 -0.8 1.2\\ -2.7 -1.2 1.2\\ -2.3 -1.5 1.2\\ -1.9 -1.8 1.2\\ -1.5 -2.0 1.5\\ -1.1 -2.5 1.5\\}
\sr{cH}{-3.9 0.1 1.5\\ -3.5 -0.6 1.2\\ -3.1 -0.9 1.2\\ -2.7 -1.3 1.2\\ -2.3 -1.6 1.2\\ -1.9 -1.7 1.2\\ -1.5 -2.1 1.5\\ -1.1 -2.4 1.5\\}}
\Pnl{5}{3}{}{
\sr{cC}{-1.9 -2.5 1.5\\ -1.5 -2.4 1.2\\ -1.2 -2.9 1.5\\}
\sr{cD}{-2.8 -1.9 1.5\\ -2.4 -1.8 1.2\\ -2.0 -1.8 1.2\\ -1.6 -2.0 1.2\\ -1.3 -2.0 1.2\\}
\sr{cF}{-3.7 -0.7 1.5\\ -3.3 -1.0 1.2\\ -2.95 -1.5 1.2\\ -2.6 -1.4 1.2\\ -2.2 -1.8 1.2\\ -1.8 -2.0 1.2\\ -1.4 -2.3 1.5\\}
\sr{cG}{-3.7 -0.2 1.5\\ -3.3 -0.6 1.2\\ -2.95 -1.3 1.2\\ -2.6 -1.1 1.2\\ -2.2 -1.6 1.2\\ -1.8 -1.8 1.2\\ -1.4 -2.2 1.5\\ -1.0 -2.5 1.5\\}
\sr{cH}{-3.7 0.3 1.5\\ -3.3 -0.3 1.2\\ -2.95 -1.2 1.2\\ -2.6 -1.0 1.2\\ -2.2 -1.5 1.2\\ -1.8 -1.8 1.2\\ -1.4 -2.1 1.5\\ -1.1 -2.4 1.5\\}}
\Pnl{5}{4}{}{
\sr{cC}{-3.6 -1.5 1.5\\ -3.3 -1.4 1.0\\ -3.0 -1.6 1.0\\ -2.6 -1.8 1.0\\ -2.3 -2.1 1.0\\ -2.0 -2.2 1.0\\ -1.6 -2.4 1.2\\ -1.3 -2.6 1.5\\}
\sr{cD}{-3.6 -0.7 1.5\\ -3.3 -0.6 0.8\\ -3.0 -1.0 0.8\\ -2.6 -1.4 0.8\\ -2.3 -1.7 0.8\\ -2.0 -1.9 1.0\\ -1.6 -2.1 1.0\\ -1.3 -2.4 1.2\\ -1.0 -2.6 1.5\\}
\sr{cF}{-3.6 -0.5 1.5\\ -3.3 -0.4 0.8\\ -3.0 -0.9 0.8\\ -2.6 -1.3 0.8\\ -2.3 -1.5 0.8\\ -2.0 -1.8 1.0\\ -1.6 -2.0 1.0\\ -1.3 -2.2 1.2\\}
\sr{cG}{-3.6 -0.2 1.5\\ -3.3 -0.2 0.8\\ -3.0 -0.7 0.8\\ -2.6 -1.1 0.8\\ -2.3 -1.4 0.8\\ -2.0 -1.7 1.0\\ -1.6 -1.8 1.0\\ -1.3 -2.1 1.2\\ -1.0 -2.5 1.5\\}
\sr{cH}{-3.6 0.0 1.5\\ -3.3 -0.1 0.8\\ -3.0 -0.6 0.8\\ -2.6 -1.0 0.8\\ -2.3 -1.3 0.8\\ -2.0 -1.5 1.0\\ -1.6 -1.7 1.0\\ -1.3 -2.0 1.2\\ -1.0 -2.4 1.5\\ -0.85 -2.7 1.5\\}}
\Pnl{5}{5}{lg={1.119}{0.832}{2}}{
\sr{cC}{-4.13 -1.15 1.5\\ -3.87 0.45 0.5\\ -3.62 0.1 0.4\\ -3.32 -0.45 0.4\\ -2.95 -0.9 0.4\\ -2.7 -1.2 0.4\\ -2.39 -1.3 0.4\\ -2.09 -1.65 0.5\\ -1.78 -1.65 0.5\\ -1.42 -1.9 0.5\\ -1.12 -2.4 0.6\\}
\sr{cD}{-4.13 -0.05 0.8\\ -3.87 0.85 0.4\\ -3.62 0.45 0.4\\ -3.32 -0.2 0.4\\ -2.95 -0.7 0.4\\ -2.7 -1.05 0.4\\ -2.39 -1.3 0.4\\ -2.09 -1.8 0.8\\ -1.78 -1.55 0.5\\ -1.42 -1.75 0.5\\ -1.12 -2.4 0.6\\ -0.86 -3.5 1.5\\}
\sr{cF}{-4.13 0.5 0.8\\ -3.87 1.0 0.4\\ -3.62 0.85 0.4\\ -3.32 0.35 0.4\\ -2.95 -0.4 0.5\\ -2.7 -0.7 0.5\\ -2.39 -1.05 0.5\\ -2.09 -1.2 0.5\\ -1.78 -1.35 0.5\\ -1.42 -1.55 0.5\\ -1.12 -1.9 0.6\\ -0.86 -3.2 1.5\\}
\sr{cG}{-4.13 0.6 0.8\\ -3.87 1.15 0.4\\ -3.62 1.0 0.4\\ -3.32 0.55 0.4\\ -2.95 -0.3 1.5\\ -2.7 -0.65 1.5\\ -2.39 -1.0 1.5\\ -2.09 -1.1 1.5\\ -1.78 -1.25 1.5\\ -1.42 -1.4 1.5\\ -1.12 -1.75 1.5\\ -0.86 -2.9 1.5\\}
\sr{cH}{-3.87 1.3 0.5\\ -3.62 1.3 0.4\\ -3.32 0.8 0.5\\ -2.95 -0.3 1.5\\ -2.7 -0.45 1.5\\ -2.39 -1.0 1.5\\ -2.09 -1.1 1.5\\ -1.78 -1.75 1.5\\ -1.42 -1.6 1.5\\ -1.12 -1.85 1.5\\ -0.86 -2.15 1.5\\}
\lge{cC}{8.5}\lge{cG}{10.0}\lge{cD}{9.0}\lge{cH}{10.5}\lge{cF}{9.5}}
% ---------------- row 6
\Pnl{6}{0}{yl={$4.0\leq z<5.0$}}{
\sr{cC}{-1.45 -2.8 1.5\\ -1.1 -2.4 1.2\\ -0.84 -2.9 1.5\\}
\sr{cD}{-1.45 -2.6 1.5\\ -1.1 -2.2 1.2\\ -0.84 -2.5 1.2\\}
\sr{cF}{-1.45 -2.3 1.5\\ -1.1 -2.0 1.2\\ -0.84 -2.6 1.2\\}
\sr{cG}{-3.53 0.3 1.5\\ -3.2 -0.6 1.5\\ -2.7 -1.7 1.5\\ -1.45 -1.5 1.5\\ -1.1 -2.0 1.2\\ -0.84 -1.9 1.2\\}}
\Pnl{6}{1}{}{
\sr{cD}{-1.2 -2.6 1.5\\ -0.85 -2.2 1.2\\}
\sr{cF}{-2.9 -1.3 1.5\\ -2.4 -1.6 1.5\\ -1.9 -2.0 1.5\\ -1.4 -2.2 1.5\\ -0.85 -2.4 1.5\\}
\sr{cG}{-2.9 -1.0 1.5\\ -2.6 -0.9 1.5\\ -2.35 -0.3 1.2\\ -2.0 -1.2 1.5\\ -1.5 -1.4 1.5\\ -1.2 -1.6 1.5\\ -0.85 -1.5 1.2\\}}
\Pnl{6}{2}{}{
\sr{cF}{-3.4 -0.9 1.5\\ -2.9 -1.6 1.5\\ -2.3 -1.8 1.5\\ -1.9 -1.9 1.5\\}
\sr{cG}{-3.45 0.0 1.5\\ -3.1 -0.5 1.5\\ -2.7 -0.8 1.5\\ -2.35 -1.1 1.5\\ -2.0 -1.5 1.5\\ -1.6 -1.6 1.5\\ -1.2 -1.7 1.5\\ -0.85 -1.8 1.5\\}}
\Pnl{6}{3}{}{
\sr{cD}{-3.94 -1.0 1.5\\ -3.3 -1.5 1.5\\ -2.6 -2.0 1.5\\ -1.9 -2.3 1.5\\ -1.3 -2.6 1.5\\ -0.85 -2.8 1.5\\}
\sr{cF}{-2.6 -1.8 1.5\\ -2.0 -1.9 1.5\\ -1.4 -2.1 1.5\\ -0.9 -2.3 1.5\\}
\sr{cG}{-3.2 -0.9 1.5\\ -2.8 -1.1 1.5\\ -2.4 -1.4 1.5\\ -2.0 -1.6 1.5\\ -1.6 -1.4 1.2\\ -1.2 -1.7 1.2\\ -0.9 -2.0 1.2\\}}
\Pnl{6}{4}{}{
\sr{cD}{-3.1 -1.6 1.5\\ -2.8 -1.7 1.5\\ -2.5 -1.5 1.2\\ -2.2 -2.0 1.5\\ -1.9 -2.1 1.5\\ -1.6 -1.9 1.2\\}
\sr{cF}{-3.4 -0.6 1.5\\ -3.1 -1.2 1.5\\ -2.8 -1.4 1.2\\ -2.5 -1.3 1.2\\ -2.2 -1.6 1.2\\ -1.9 -1.8 1.2\\ -1.6 -1.7 1.2\\ -1.3 -1.9 1.2\\}
\sr{cG}{-3.7 0.7 1.5\\ -3.4 0.2 1.5\\ -3.1 -0.9 1.5\\ -2.8 -1.0 1.2\\ -2.5 -0.8 1.2\\ -2.2 -1.2 1.2\\ -1.9 -1.5 1.2\\ -1.6 -1.4 1.2\\ -1.3 -1.6 1.2\\ -1.0 -1.9 1.2\\}}
\Pnl{6}{5}{}{
\sr{cC}{-3.85 -0.3 1.5\\ -3.6 -1.1 1.0\\ -3.3 -1.6 1.0\\ -3.0 -2.0 1.0\\ -2.7 -1.9 1.0\\ -2.4 -1.8 1.0\\ -2.1 -2.2 1.0\\ -1.8 -2.3 1.0\\ -1.5 -2.4 1.2\\ -1.2 -2.6 1.5\\}
\sr{cD}{-3.85 0.0 1.5\\ -3.6 -0.5 0.8\\ -3.3 -1.0 0.8\\ -3.0 -1.7 1.0\\ -2.7 -1.6 1.0\\ -2.4 -1.7 1.0\\ -2.1 -2.1 1.0\\ -1.8 -2.2 1.0\\ -1.5 -2.3 1.2\\ -1.2 -2.5 1.2\\ -0.9 -2.6 1.5\\}
\sr{cF}{-3.85 0.3 1.5\\ -3.6 -0.3 0.8\\ -3.3 -1.3 1.0\\ -3.0 -1.5 1.0\\ -2.7 -1.2 0.8\\ -2.4 -1.5 0.8\\ -2.1 -1.8 0.8\\ -1.8 -1.9 1.0\\ -1.5 -2.1 1.0\\ -1.2 -2.0 1.0\\ -0.9 -2.3 1.2\\}
\sr{cG}{-3.85 0.6 1.5\\ -3.6 0.2 0.8\\ -3.3 -0.6 0.8\\ -3.0 -0.9 0.8\\ -2.7 -1.0 0.8\\ -2.4 -1.3 0.8\\ -2.1 -1.5 0.8\\ -1.8 -1.6 0.8\\ -1.5 -1.8 1.0\\ -1.2 -1.9 1.0\\ -0.9 -2.1 1.2\\}}
\Pnl{6}{6}{lg={1.119}{0.933}{1}}{
\sr{cC}{-3.86 0.0 1.5\\ -3.6 -0.4 0.5\\ -3.3 -0.8 0.5\\ -3.0 -1.0 0.5\\ -2.7 -1.3 0.5\\ -2.4 -1.5 0.5\\ -2.1 -1.7 0.5\\ -1.8 -1.9 0.6\\ -1.5 -2.1 0.6\\ -1.2 -2.3 0.8\\}
\sr{cD}{-3.86 0.2 1.5\\ -3.6 -0.2 0.5\\ -3.3 -0.6 0.5\\ -3.0 -0.9 0.5\\ -2.7 -1.1 0.5\\ -2.4 -1.4 0.5\\ -2.1 -1.6 0.5\\ -1.8 -1.8 0.6\\ -1.5 -2.0 0.6\\ -1.2 -2.2 0.8\\ -0.95 -2.4 1.0\\}
\sr{cF}{-3.86 0.3 1.5\\ -3.6 0.0 0.5\\ -3.3 -0.4 0.5\\ -3.0 -0.7 0.5\\ -2.7 -1.0 0.5\\ -2.4 -1.2 0.5\\ -2.1 -1.5 0.5\\ -1.8 -1.7 0.6\\ -1.5 -1.9 0.6\\ -1.2 -2.0 0.8\\ -0.95 -2.3 1.0\\}
\sr{cG}{-3.86 0.6 1.5\\ -3.6 0.2 0.5\\ -3.3 -0.2 0.5\\ -3.0 -0.5 0.5\\ -2.7 -0.8 0.5\\ -2.4 -1.1 0.5\\ -2.1 -1.3 0.5\\ -1.8 -1.5 0.6\\ -1.5 -1.7 0.6\\ -1.2 -1.9 0.8\\ -0.95 -2.2 1.0\\}
\lge{cC}{8.5}\lge{cD}{9.0}\lge{cF}{9.5}\lge{cG}{10.0}}
% ---------------- row 7
\Pnl{7}{0}{yl={$5.0\leq z<6.0$}}{
\sr{cD}{-0.79 -2.7 1.5\\}
\sr{cF}{-1.15 -3.2 1.5\\ -0.79 -2.25 1.2\\}}
\Pnl{7}{1}{}{
\sr{cC}{-3.6 -0.5 1.5\\ -3.2 -1.2 1.5\\ -2.9 -2.8 1.5\\ -2.4 -2.6 1.5\\ -1.8 -2.4 1.5\\ -1.2 -2.3 1.5\\ -0.9 -2.7 1.5\\}
\sr{cD}{-3.6 -1.4 1.5\\ -3.3 -0.4 1.2\\ -2.9 -1.2 1.2\\ -2.5 -1.7 1.2\\ -2.1 -2.0 1.2\\ -1.6 -1.8 1.2\\ -1.2 -2.2 1.2\\ -0.9 -2.5 1.2\\}
\sr{cE}{-3.6 -0.2 1.5\\ -3.3 -0.35 1.2\\ -2.9 -1.5 1.2\\ -2.5 -1.2 1.2\\ -2.1 -1.5 1.2\\ -1.6 -1.9 1.2\\ -1.2 -2.4 1.2\\ -0.9 -2.6 1.2\\}
\sr{cF}{-3.5 -0.6 1.5\\ -3.2 -0.3 1.2\\ -2.9 -0.8 1.2\\ -2.6 -1.5 1.2\\ -2.2 -1.8 1.2\\ -1.8 -2.0 1.2\\ -1.4 -2.2 1.2\\ -1.0 -2.5 1.2\\}}
\Pnl{7}{2}{}{
\sr{cC}{-3.9 -0.3 1.5\\ -3.6 -0.7 1.0\\ -3.3 -1.2 1.0\\ -3.0 -1.5 1.0\\ -2.6 -1.7 1.0\\ -2.2 -1.9 1.0\\ -1.8 -2.0 1.0\\ -1.4 -2.1 1.0\\ -0.9 -2.4 1.2\\}
\sr{cD}{-3.9 -0.2 1.5\\ -3.6 -0.5 1.0\\ -3.3 -0.9 1.0\\ -3.0 -1.2 1.0\\ -2.6 -1.5 1.0\\ -2.2 -1.7 1.0\\ -1.8 -1.9 1.0\\ -1.4 -2.0 1.0\\ -0.9 -2.3 1.2\\}
\sr{cE}{-3.9 0.0 1.5\\ -3.6 -0.3 1.0\\ -3.3 -0.8 1.0\\ -3.0 -1.0 1.0\\ -2.6 -1.3 1.0\\ -2.2 -1.6 1.0\\ -1.8 -1.8 1.0\\ -1.4 -1.9 1.0\\ -0.9 -2.2 1.2\\}
\sr{cF}{-3.9 0.4 1.5\\ -3.6 0.0 1.0\\ -3.3 -0.4 1.0\\ -3.0 -0.8 1.0\\ -2.6 -1.2 1.0\\ -2.2 -1.5 1.0\\ -1.8 -1.7 1.0\\ -1.4 -1.8 1.0\\ -0.9 -2.0 1.2\\}}
\Pnl{7}{3}{}{
\sr{cC}{-3.65 -1.2 1.5\\ -3.3 -1.6 1.2\\ -3.0 -0.9 1.0\\ -2.6 -1.8 1.0\\ -2.3 -1.9 1.0\\ -1.9 -2.0 1.0\\ -1.5 -2.4 1.2\\ -1.2 -2.2 1.2\\ -0.9 -2.6 1.5\\}
\sr{cD}{-3.65 -0.6 1.5\\ -3.3 -0.8 1.0\\ -3.0 -0.6 1.0\\ -2.6 -1.5 1.0\\ -2.3 -1.7 1.0\\ -1.9 -1.6 1.0\\ -1.5 -2.1 1.2\\ -1.2 -2.2 1.2\\}
\sr{cE}{-3.65 -0.3 1.5\\ -3.3 -0.6 1.0\\ -3.0 -0.5 1.0\\ -2.6 -1.2 1.0\\ -2.3 -1.5 1.0\\ -1.9 -1.4 1.0\\ -1.5 -1.9 1.2\\ -1.2 -2.0 1.2\\ -0.9 -2.3 1.2\\}
\sr{cF}{-3.65 0.0 1.5\\ -3.3 -0.4 1.0\\ -3.0 -0.3 1.0\\ -2.6 -0.8 1.0\\ -2.3 -1.2 1.0\\ -1.9 -1.3 1.0\\ -1.5 -1.6 1.0\\ -1.2 -2.0 1.2\\ -0.9 -2.1 1.2\\}}
\Pnl{7}{4}{}{
\sr{cD}{-3.8 -0.2 1.5\\ -3.4 -0.6 1.0\\ -3.0 -1.0 1.0\\ -2.6 -1.4 1.0\\ -2.2 -1.7 1.0\\ -1.8 -2.0 1.0\\ -1.45 -3.5 1.5\\ -1.1 -2.4 1.2\\ -0.85 -2.4 1.2\\}
\sr{cE}{-3.8 0.4 1.5\\ -3.4 -0.2 1.0\\ -3.0 -0.7 1.0\\ -2.6 -1.1 1.0\\ -2.2 -1.4 1.0\\ -1.8 -1.7 1.0\\ -1.4 -2.1 1.0\\ -1.1 -2.3 1.2\\ -0.85 -2.4 1.2\\}
\sr{cF}{-3.8 0.8 1.5\\ -3.4 0.2 1.0\\ -3.0 -0.3 1.0\\ -2.6 -0.6 1.0\\ -2.2 -1.0 1.0\\ -1.75 -1.1 1.0\\ -1.4 -1.5 1.0\\ -1.1 -2.1 1.2\\ -0.85 -2.3 1.2\\}}
\Pnl{7}{5}{}{
\sr{cC}{-3.92 -0.74 1.5\\ -3.54 -1.29 1.2\\ -2.95 -0.99 1.2\\ -2.66 -2.39 1.2\\}
\sr{cD}{-3.92 -0.05 1.5\\ -2.95 -0.8 1.5\\ -2.66 -3.5 1.5\\ -2.36 -1.2 1.0\\}
\sr{cE}{-3.92 0.2 1.5\\ -3.55 0.05 1.2\\ -2.95 -0.45 1.2\\ -2.66 -1.29 1.2\\}
\sr{cF}{-3.92 0.66 1.5\\ -2.95 -0.27 1.2\\}}
\Pnl{7}{6}{}{
\sr{cC}{-3.3 -0.25 1.5\\ -3.0 -1.3 1.2\\ -2.7 -2.0 1.2\\ -2.08 -1.95 1.2\\ -1.46 -2.25 1.2\\ -1.15 -2.2 1.2\\}
\sr{cD}{-3.97 -0.4 1.5\\ -3.67 -0.8 1.2\\ -3.3 -0.3 1.2\\ -3.0 -1.0 1.2\\ -2.7 -1.1 1.0\\ -2.39 -1.35 1.0\\ -2.08 -2.0 1.0\\ -1.78 -2.2 1.0\\ -1.15 -2.15 1.0\\}
\sr{cE}{-3.97 -0.05 1.5\\ -3.67 0.05 1.2\\ -3.3 -0.1 1.2\\ -3.0 -1.2 1.2\\ -2.7 -1.2 1.0\\ -2.39 -1.3 1.0\\ -2.08 -1.9 1.0\\ -1.78 -2.2 1.0\\ -1.15 -2.1 1.0\\}
\sr{cF}{-3.97 0.5 1.5\\ -3.61 0.1 1.2\\ -3.36 -0.55 1.2\\ -3.0 -0.9 1.2\\ -2.63 -1.0 1.2\\ -2.39 -1.2 1.0\\ -2.08 -2.0 1.2\\ -1.78 -2.1 1.0\\ -1.15 -2.1 1.0\\ -0.85 -2.75 1.5\\}}
\Pnl{7}{7}{lg={1.114}{0.941}{1}}{
\sr{cC}{-3.9 0.8 1.5\\ -3.65 0.4 0.6\\ -3.4 -0.3 0.6\\ -3.1 -0.9 0.8\\ -2.8 -1.3 0.8\\ -2.5 -1.5 0.8\\ -2.2 -1.7 0.8\\ -1.9 -1.8 0.8\\ -1.6 -2.0 1.0\\ -1.3 -2.2 1.2\\}
\sr{cD}{-3.9 0.7 1.5\\ -3.65 0.3 0.5\\ -3.4 0.0 0.5\\ -3.1 -0.5 0.5\\ -2.8 -0.9 0.5\\ -2.5 -1.2 0.6\\ -2.2 -1.5 0.6\\ -1.9 -1.7 0.8\\ -1.6 -1.8 0.8\\ -1.3 -2.1 1.0\\ -1.05 -2.3 1.2\\}
\sr{cE}{-3.9 0.8 1.5\\ -3.65 0.5 0.5\\ -3.4 0.2 0.5\\ -3.1 -0.4 0.5\\ -2.8 -0.8 0.5\\ -2.5 -1.1 0.6\\ -2.2 -1.4 0.6\\ -1.9 -1.5 0.8\\ -1.6 -1.7 0.8\\ -1.3 -2.0 1.0\\ -1.05 -2.2 1.2\\}
\sr{cF}{-3.9 1.0 1.5\\ -3.65 0.7 0.5\\ -3.4 0.4 0.5\\ -3.1 -0.2 0.5\\ -2.8 -0.6 0.5\\ -2.5 -0.9 0.6\\ -2.2 -1.2 0.6\\ -1.9 -1.4 0.8\\ -1.6 -1.6 0.8\\ -1.3 -1.9 1.0\\ -1.05 -2.1 1.2\\}
\lge{cC}{8.5}\lge{cD}{9.0}\lge{cE}{9.25}\lge{cF}{9.5}}
% ---------------- row 8
\Pnl{8}{0}{yl={$6.0\leq z<8.0$}}{
\sr{cD}{-2.3 -1.8 1.5\\}}
\Pnl{8}{1}{}{
\sr{cD}{-2.36 -2.5 1.5\\}
\sr{cF}{-2.36 -1.2 0.5\\}}
\Pnl{8}{2}{}{
\sr{cC}{-3.83 -0.2 1.5\\ -3.5 -0.6 1.2\\ -3.1 -1.2 1.2\\ -2.8 -2.1 1.5\\ -2.5 -1.7 1.2\\ -2.1 -1.9 1.2\\ -1.7 -1.9 1.2\\ -1.3 -2.0 1.2\\ -0.9 -2.0 1.2\\}
\sr{cD}{-3.83 -0.1 1.5\\ -3.3 -0.9 1.2\\ -2.9 -1.3 1.2\\ -2.5 -1.5 1.2\\ -2.1 -1.7 1.2\\ -1.7 -1.8 1.2\\ -1.3 -2.1 1.2\\ -0.9 -1.9 1.2\\}
\sr{cF}{-3.83 0.1 1.5\\ -3.3 -0.6 1.2\\ -2.9 -1.1 1.2\\ -2.5 -0.9 1.2\\ -2.1 -1.3 1.2\\ -1.7 -1.5 1.2\\ -1.3 -1.9 1.2\\ -0.9 -2.0 1.2\\}}
\Pnl{8}{3}{}{
\sr{cC}{-3.94 0.4 1.5\\ -3.7 -0.2 1.2\\ -3.4 -1.0 1.5\\ -3.1 -2.8 1.5\\}
\sr{cD}{-3.94 0.7 1.5\\ -3.7 0.1 1.2\\ -3.4 -0.6 1.2\\ -3.0 -1.3 1.5\\ -2.6 -1.5 1.5\\ -2.2 -1.9 1.5\\ -1.6 -2.6 1.5\\}
\sr{cF}{-3.94 1.1 1.2\\ -3.7 0.6 1.2\\ -3.4 0.5 1.2\\}}
\Pnl{8}{4}{}{
\sr{cC}{-2.95 -1.3 1.5\\ -2.5 -1.5 1.2\\ -2.0 -1.6 1.2\\ -1.5 -1.4 1.2\\ -0.9 -1.2 1.2\\}
\sr{cD}{-3.0 -1.0 1.5\\ -2.6 -1.7 1.5\\ -2.2 -2.0 1.5\\ -1.6 -2.6 1.5\\ -0.9 -2.0 1.2\\}}
\Pnl{8}{5}{}{
\sr{cC}{-3.7 -0.8 1.5\\ -3.4 -1.2 1.5\\ -3.1 -0.6 1.2\\ -2.8 -2.0 1.5\\}
\sr{cD}{-3.7 0.1 1.5\\ -3.4 -0.6 1.2\\ -3.1 -0.4 1.2\\ -2.7 -0.9 1.2\\ -2.4 -1.3 1.2\\ -2.0 -1.6 1.2\\ -1.6 -1.9 1.5\\}
\sr{cF}{-3.7 0.9 1.5\\ -3.4 0.3 1.2\\ -3.1 -0.1 1.2\\ -2.7 -0.5 1.2\\ -2.3 -0.8 1.2\\ -1.9 -1.1 1.2\\ -1.5 -1.3 1.2\\ -1.1 -1.5 1.2\\ -0.85 -1.6 1.2\\}}
\Pnl{8}{6}{}{
\sr{cC}{-2.0 -1.8 1.5\\ -1.6 -2.0 1.2\\ -1.2 -1.9 1.2\\ -0.9 -2.4 1.5\\}
\sr{cD}{-3.3 -1.3 1.5\\ -2.9 -1.4 1.2\\ -2.5 -1.8 1.2\\ -2.0 -2.2 1.2\\ -1.6 -1.9 1.2\\ -1.2 -2.2 1.2\\ -0.9 -2.0 1.2\\}
\sr{cF}{-3.86 -0.4 1.5\\ -3.5 -0.8 1.2\\ -3.1 -1.3 1.2\\ -2.6 -2.0 1.2\\ -2.0 -2.4 1.2\\ -1.5 -2.5 1.5\\ -1.1 -2.6 1.5\\}}
\Pnl{8}{7}{}{
\sr{cC}{-3.2 -2.1 1.5\\ -2.8 -1.8 1.2\\ -2.4 -1.9 1.2\\}
\sr{cD}{-3.5 -1.0 1.5\\ -3.2 -1.5 1.2\\ -2.8 -1.6 1.2\\ -2.4 -1.7 1.2\\ -2.0 -1.7 1.2\\ -1.6 -1.5 1.2\\ -1.2 -1.5 1.2\\}
\sr{cF}{-3.85 1.0 1.5\\ -3.5 0.5 1.2\\ -3.2 0.2 1.2\\ -2.8 -0.3 1.2\\ -2.4 -0.8 1.2\\ -2.0 -1.2 1.2\\ -1.6 -1.7 1.2\\ -1.2 -1.9 1.2\\ -0.95 -2.0 1.2\\}}
\Pnl{8}{8}{lg={1.116}{0.840}{1}}{
\sr{cC}{-3.79 0.6 0.6\\ -3.38 0.35 0.6\\ -3.08 -0.6 0.8\\ -2.67 -1.05 0.8\\ -2.36 -1.2 0.8\\ -2.01 -1.15 0.8\\ -1.6 -1.7 0.8\\ -0.84 -3.0 1.5\\}
\sr{cD}{-3.79 0.9 1.5\\ -3.38 0.45 0.8\\ -3.08 -0.6 1.5\\ -2.67 -1.4 1.5\\ -2.36 -1.1 0.8\\ -2.01 -1.1 0.8\\ -1.6 -1.7 1.5\\}
\sr{cF}{-3.79 1.5 0.6\\ -3.38 0.5 1.5\\ -3.08 -0.3 1.5\\ -2.7 -0.8 0.8\\ -2.36 -1.4 1.5\\ -2.01 -1.0 0.8\\ -1.6 -1.25 0.8\\}
\lge{cC}{8.7}\lge{cD}{9.0}\lge{cF}{9.3}}
% ---------------- row 9
\Pnl{9}{0}{yl={$8.0\leq z<10.5$}}{
\sr{cD}{-2.3 -1.6 1.5\\ -1.08 -2.0 1.5\\ -0.85 -2.5 1.5\\}}
\Pnl{9}{1}{}{
\sr{cD}{-3.22 -1.75 1.5\\ -1.75 -1.55 1.2\\ -1.6 -2.5 1.5\\ -1.1 -2.5 1.5\\ -0.85 -2.4 1.5\\}}
\Pnl{9}{2}{}{
\sr{cC}{-3.2 -1.9 1.5\\ -2.8 -1.6 1.2\\ -2.4 -2.3 1.5\\ -2.0 -2.0 1.2\\ -1.6 -2.2 1.2\\ -1.2 -1.9 1.2\\ -0.9 -2.5 1.5\\}
\sr{cD}{-3.9 0.5 1.5\\ -3.5 -0.6 1.2\\ -3.2 -1.4 1.2\\ -2.9 -1.1 1.2\\ -2.6 -1.7 1.2\\ -2.2 -2.0 1.2\\ -1.8 -1.8 1.2\\ -1.5 -2.1 1.2\\ -1.2 -2.0 1.2\\ -0.9 -2.2 1.2\\}}
\Pnl{9}{3}{}{
\sr{cC}{-3.85 -0.1 1.5\\ -3.55 0.5 1.2\\ -3.25 -0.3 1.2\\ -2.95 -0.6 1.2\\ -2.65 -1.4 1.2\\ -2.35 -1.7 1.2\\ -2.05 -1.3 1.2\\ -1.75 -1.5 1.2\\ -1.4 -1.7 1.2\\ -1.1 -2.0 1.2\\ -0.85 -2.3 1.5\\}
\sr{cD}{-3.85 0.3 1.5\\ -3.55 0.8 1.2\\ -3.25 0.2 1.2\\ -2.95 -0.2 1.2\\ -2.65 -1.1 1.2\\ -2.35 -1.5 1.2\\ -2.05 -0.9 1.2\\ -1.75 -1.3 1.2\\ -1.4 -1.7 1.2\\}}
\Pnl{9}{4}{}{
\sr{cC}{-3.9 -0.2 1.5\\ -3.66 0.75 1.2\\ -3.38 -0.05 1.2\\ -3.08 -1.3 1.2\\ -2.8 -0.8 1.2\\ -2.55 -1.2 1.0\\ -2.25 -1.4 1.0\\ -1.93 -1.45 1.0\\ -1.68 -1.8 1.0\\ -0.81 -2.9 1.5\\}
\sr{cD}{-3.9 0.7 0.8\\ -3.8 0.9 0.6\\ -3.66 1.05 0.6\\ -3.38 -0.2 1.5\\ -2.8 -0.8 1.5\\ -2.22 -2.35 1.0\\ -1.93 -1.75 0.8\\}}
\Pnl{9}{5}{}{
\sr{cC}{-3.81 -0.6 1.5\\ -3.71 0.15 1.2\\ -3.36 -0.25 1.2\\ -2.85 -1.15 1.2\\ -2.52 -1.1 1.2\\ -2.26 -2.0 1.2\\ -1.96 -1.7 1.2\\ -1.36 -2.0 1.2\\ -1.12 -2.35 1.2\\ -0.81 -2.2 1.2\\}
\sr{cD}{-3.81 0.6 1.5\\ -3.71 0.8 1.2\\ -3.36 -0.55 1.5\\ -3.1 -0.9 1.5\\ -2.8 -0.75 1.2\\ -2.52 -0.8 1.2\\ -1.36 -1.85 1.2\\ -0.81 -2.1 1.2\\}}
\Pnl{9}{6}{}{
\sr{cC}{-3.86 0.1 1.5\\ -3.6 -0.5 1.2\\ -3.3 -0.7 1.2\\ -3.0 -1.1 1.2\\ -2.7 -1.4 1.2\\ -2.4 -1.8 1.2\\ -2.0 -1.9 1.2\\ -1.6 -2.1 1.2\\ -1.2 -2.4 1.5\\}
\sr{cD}{-3.86 0.5 1.5\\ -3.6 0.2 1.2\\ -3.3 -0.4 1.2\\ -3.0 -2.5 1.5\\ -2.7 -0.8 1.2\\ -2.4 -1.2 1.2\\ -2.0 -1.6 1.2\\ -1.6 -2.0 1.2\\ -1.2 -2.3 1.5\\}}
\Pnl{9}{7}{}{
\sr{cC}{-3.87 0.4 1.5\\ -3.6 -0.7 1.2\\ -3.3 -1.5 1.2\\ -3.0 -1.2 1.2\\ -2.6 -1.0 1.2\\ -2.2 -1.6 1.2\\ -1.8 -2.3 1.2\\ -1.4 -1.7 1.2\\ -1.0 -2.4 1.2\\ -0.85 -2.9 1.5\\}
\sr{cD}{-3.87 0.85 1.5\\ -3.6 0.0 1.2\\ -3.3 -0.9 1.2\\ -3.0 -1.4 1.2\\ -2.6 -1.8 1.2\\ -2.2 -2.3 1.2\\ -1.8 -2.0 1.2\\ -1.4 -2.3 1.2\\ -1.0 -2.6 1.5\\}}
\Pnl{9}{8}{}{
\sr{cC}{-3.7 0.3 1.5\\ -3.4 -0.4 1.2\\ -3.1 -0.8 1.2\\ -2.5 -1.6 1.2\\ -1.9 -1.9 1.2\\ -1.3 -2.4 1.2\\ -1.05 -2.3 1.5\\}
\sr{cD}{-3.7 0.7 1.5\\ -3.4 -0.2 1.2\\ -3.1 -0.6 1.2\\ -2.5 -1.3 1.2\\ -1.9 -1.6 1.2\\ -1.3 -2.1 1.2\\ -1.05 -2.4 1.5\\}}
\Pnl{9}{9}{lg={0.417}{0.975}{1}}{
\sr{cC}{-3.85 0.7 1.5\\ -3.7 0.9 0.6\\ -3.4 0.2 0.6\\ -3.1 -0.3 0.6\\ -2.8 -0.6 0.6\\ -2.5 -0.9 0.6\\ -2.2 -1.2 0.6\\ -1.9 -1.5 0.8\\ -1.6 -1.8 0.8\\ -1.3 -1.9 1.0\\ -1.0 -2.2 1.2\\ -0.8 -2.6 1.5\\}
\sr{cD}{-3.85 1.0 1.5\\ -3.7 1.3 0.6\\ -3.4 0.6 0.6\\ -3.1 0.0 0.6\\ -2.8 -0.3 0.6\\ -2.5 -0.7 0.6\\ -2.2 -1.0 0.6\\ -1.9 -1.3 0.8\\ -1.6 -1.6 0.8\\ -1.3 -1.8 1.0\\ -1.0 -2.1 1.2\\ -0.8 -2.4 1.5\\}
\lge{cC}{8.7}\lge{cD}{9.0}}
% ---------------- row 10
\Pnl{10}{0}{yl={$10.5\leq z<14.0$}, xl={$0.1\leq z<0.6$}}{
\sr{cD}{-3.78 0.88 1.15\\ -2.93 -0.72 1.6\\ -1.23 -2.23 1.5\\ -0.99 -1.93 1.5\\ -0.79 -2.35 1.5\\}}
\Pnl{10}{1}{xl={$0.6\leq z<1.0$}}{
\sr{cD}{-3.18 -0.47 1.5\\ -2.93 -0.5 1.5\\ -2.73 -0.63 0.8\\}}
\Pnl{10}{2}{xl={$1.0\leq z<1.5$}}{
\sr{cD}{-3.83 1.0 1.5\\ -3.5 -0.1 1.5\\ -3.2 0.55 1.2\\ -2.9 0.2 1.5\\ -2.05 -0.3 1.5\\ -1.6 -0.45 1.5\\ -1.2 0.1 1.2\\ -0.85 -0.6 1.5\\}}
\Pnl{10}{3}{xl={$1.5\leq z<2.0$}}{
\sr{cD}{-3.35 -0.85 1.5\\ -3.1 -0.55 1.2\\ -2.85 -0.6 1.5\\ -2.6 -0.5 1.2\\ -2.4 -1.0 1.5\\ -1.2 -2.75 1.5\\}}
\Pnl{10}{4}{xl={$2.0\leq z<2.5$}}{
\sr{cD}{-3.4 0.55 1.5\\ -3.1 -0.2 1.2\\ -2.8 -0.55 1.2\\ -2.5 -0.3 1.2\\ -2.03 -2.0 1.5\\ -1.57 -0.7 1.2\\ -1.12 -0.55 1.2\\}}
\Pnl{10}{5}{xl={$2.5\leq z<3.0$}}{
\sr{cD}{-3.8 1.15 0.8\\ -3.62 1.3 0.8\\ -3.25 0.3 1.5\\ -2.95 0.05 1.2\\ -2.73 -2.75 1.5\\ -2.5 -0.45 1.2\\ -2.2 -1.2 1.2\\ -1.9 -0.7 1.2\\ -1.7 -1.95 1.5\\ -1.3 -1.2 1.2\\ -0.85 -1.5 1.2\\}}
\Pnl{10}{6}{xl={$3.0\leq z<4.0$}}{
\sr{cD}{-3.76 0.6 1.5\\ -3.6 0.65 0.6\\ -3.4 0.0 1.5\\ -3.16 0.0 0.6\\ -2.53 -0.7 0.8\\ -2.32 -1.0 0.8\\ -2.1 -1.25 0.9\\ -1.89 -1.0 1.5\\ -1.46 -1.95 1.5\\}}
\Pnl{10}{7}{xl={$4.0\leq z<5.0$}}{
\sr{cD}{-3.82 1.2 0.6\\ -3.6 0.75 0.6\\ -3.37 -0.8 1.5\\ -3.21 0.3 0.6\\ -3.01 -0.4 1.5\\ -2.78 -0.4 1.5\\ -2.56 -0.4 1.5\\ -2.36 -1.45 1.5\\ -1.7 -1.25 0.8\\ -1.47 -1.65 0.8\\ -1.27 -2.1 1.5\\ -1.04 -2.05 1.0\\ -0.83 -2.35 1.5\\}}
\Pnl{10}{8}{xl={$5.0\leq z<6.0$}}{
\sr{cD}{-3.47 0.5 1.5\\ -3.25 -0.5 1.5\\ -3.0 -1.0 1.5\\ -2.75 -1.6 1.5\\ -0.8 -2.75 1.5\\}}
\Pnl{10}{9}{xl={$6.0\leq z<8.0$}}{
\sr{cD}{-3.0 0.37 0.3\\ -1.04 -2.5 1.5\\}}
\Pnl{10}{10}{xl={$8.0\leq z<10.5$}, lg={-0.734}{0.96}{1}}{
\sr{cD}{-3.04 0.65 1.0\\ -2.79 -0.4 1.5\\ -2.33 -0.5 1.5\\ -2.1 -0.9 1.2\\ -1.91 -1.7 1.0\\ -1.68 -0.75 0.8\\ -1.46 -0.9 0.8\\ -1.24 -1.4 1.5\\}
\lge{cD}{8.85}}
\end{tikzpicture}
\end{document}
